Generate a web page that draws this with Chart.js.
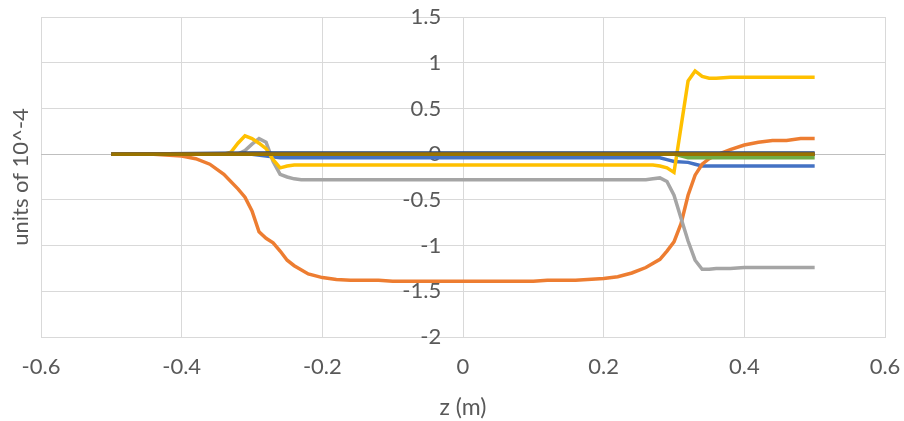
<!DOCTYPE html>
<html>
<head>
<meta charset="utf-8">
<script src="https://cdn.jsdelivr.net/npm/chart.js@4/dist/chart.umd.min.js"></script>
<style>
  html, body { margin: 0; padding: 0; background: #fff; }
  #wrap { width: 904px; height: 421px; }
</style>
</head>
<body>
<div id="wrap"><canvas id="grafico"></canvas></div>
<script>
// axis ticks
const xTicks = [-0.6, -0.4, -0.2, 0, 0.2, 0.4, 0.6];
const yTicks = [-2, -1.5, -1, -0.5, 0, 0.5, 1, 1.5];

// series 1 (blue)
const zBlue = [-0.5, -0.3, -0.28, -0.26, 0.28, 0.29, 0.3, 0.32, 0.33, 0.34, 0.5];
const blue = [0, 0, -0.02, -0.04, -0.04, -0.06, -0.08, -0.09, -0.11, -0.13, -0.13];

// series 2 (orange)
const zOrange = [-0.5, -0.44, -0.4, -0.38, -0.36, -0.34, -0.32, -0.31, -0.3, -0.29, -0.28, -0.27, -0.26, -0.25, -0.24, -0.22, -0.2, -0.18, -0.16, -0.12, -0.1, 0, 0.1, 0.12, 0.16, 0.2, 0.22, 0.24, 0.26, 0.28, 0.29, 0.3, 0.31, 0.32, 0.33, 0.34, 0.35, 0.36, 0.38, 0.4, 0.42, 0.44, 0.46, 0.48, 0.5];
const orange = [0, 0, -0.02, -0.05, -0.11, -0.22, -0.38, -0.47, -0.62, -0.85, -0.92, -0.97, -1.06, -1.16, -1.22, -1.31, -1.35, -1.37, -1.38, -1.38, -1.39, -1.39, -1.39, -1.38, -1.38, -1.36, -1.34, -1.3, -1.24, -1.15, -1.06, -0.96, -0.76, -0.45, -0.23, -0.11, -0.05, -0.01, 0.05, 0.1, 0.13, 0.15, 0.15, 0.17, 0.17];

// series 3 (gray)
const zGray = [-0.5, -0.33, -0.32, -0.31, -0.3, -0.29, -0.28, -0.27, -0.26, -0.25, -0.24, -0.23, -0.2, 0, 0.2, 0.26, 0.27, 0.28, 0.29, 0.3, 0.31, 0.32, 0.33, 0.34, 0.35, 0.36, 0.38, 0.4, 0.5];
const gray = [0, 0, 0, 0.04, 0.11, 0.17, 0.13, -0.08, -0.22, -0.25, -0.27, -0.28, -0.28, -0.28, -0.28, -0.28, -0.27, -0.26, -0.3, -0.45, -0.7, -0.95, -1.16, -1.26, -1.26, -1.25, -1.25, -1.24, -1.24];

// series 4 (yellow)
const zYellow = [-0.5, -0.34, -0.33, -0.32, -0.31, -0.3, -0.29, -0.28, -0.27, -0.26, -0.25, -0.24, -0.2, 0, 0.2, 0.27, 0.28, 0.29, 0.3, 0.31, 0.32, 0.33, 0.34, 0.35, 0.36, 0.38, 0.4, 0.5];
const yellow = [0, 0, 0.02, 0.12, 0.2, 0.17, 0.12, 0.06, -0.06, -0.15, -0.13, -0.12, -0.12, -0.12, -0.12, -0.12, -0.13, -0.15, -0.2, 0.3, 0.8, 0.91, 0.85, 0.83, 0.83, 0.84, 0.84, 0.84];

// remaining components, all close to zero
const zFlat = [-0.5, 0.5];
const lightBlue = [0, 0];
const zGreen = [-0.5, 0.3, 0.32, 0.5];
const green = [0, 0, -0.04, -0.04];
const zNavy = [-0.5, -0.3, 0.5];
const navy = [0, 0.012, 0.012];
const brown = [0, 0];
const darkGray = [0, 0];
const olive = [0, 0];

const series = [
  { z: zBlue, v: blue, color: '#4472C4' },
  { z: zOrange, v: orange, color: '#ED7D31' },
  { z: zGray, v: gray, color: '#A5A5A5' },
  { z: zYellow, v: yellow, color: '#FFC000' },
  { z: zFlat, v: lightBlue, color: '#5B9BD5' },
  { z: zGreen, v: green, color: '#70AD47' },
  { z: zNavy, v: navy, color: '#264478' },
  { z: zFlat, v: brown, color: '#9E480E' },
  { z: zFlat, v: darkGray, color: '#636363' },
  { z: zFlat, v: olive, color: '#997300' }
];

const fonte = "Lato, 'Open Sans', sans-serif";
const corTexto = '#595959';
const corGrade = '#d9d9d9';

// y-axis title drawn at the left edge, the axis labels sit next to z = 0
const tituloY = {
  id: 'tituloY',
  afterDraw(chart) {
    const { ctx, chartArea } = chart;
    ctx.save();
    ctx.translate(21, (chartArea.top + chartArea.bottom) / 2);
    ctx.rotate(-Math.PI / 2);
    ctx.font = '22px ' + fonte;
    ctx.fillStyle = corTexto;
    ctx.textAlign = 'center';
    ctx.textBaseline = 'middle';
    ctx.fillText('units of 10^-4', 0, 0);
    ctx.restore();
  }
};

const datasets = series.map((s, i) => ({
  data: s.z.map((z, k) => ({ x: z, y: s.v[k] })),
  borderColor: s.color,
  backgroundColor: s.color,
  borderWidth: 3.5,
  pointRadius: 0,
  showLine: true,
  tension: 0,
  fill: false,
  order: series.length - i
}));

new Chart(document.getElementById('grafico'), {
  type: 'scatter',
  data: { datasets },
  options: {
    responsive: true,
    maintainAspectRatio: false,
    animation: false,
    layout: { padding: { left: 41, right: 19, top: 17, bottom: 0 } },
    plugins: { legend: { display: false }, tooltip: { enabled: false } },
    scales: {
      x: {
        type: 'linear',
        min: xTicks[0],
        max: xTicks[xTicks.length - 1],
        afterBuildTicks: axis => { axis.ticks = xTicks.map(v => ({ value: v })); },
        afterFit: axis => {
          axis.height = 84;
          axis.paddingLeft = 0;
          axis.paddingRight = 0;
        },
        ticks: {
          padding: 17,
          color: corTexto,
          font: { family: fonte, size: 22 },
          callback: v => String(Number(v.toFixed(1)))
        },
        grid: { color: corGrade, drawTicks: false, tickLength: 0 },
        border: { color: corGrade },
        title: {
          display: true,
          text: 'z (m)',
          color: corTexto,
          font: { family: fonte, size: 23 },
          padding: { top: 13, bottom: 0 }
        }
      },
      y: {
        type: 'linear',
        // labels end a little left of the z = 0 grid line
        position: { x: -0.031 },
        min: yTicks[0],
        max: yTicks[yTicks.length - 1],
        afterBuildTicks: axis => { axis.ticks = yTicks.map(v => ({ value: v })); },
        afterFit: axis => {
          axis.paddingTop = 0;
          axis.paddingBottom = 0;
        },
        ticks: {
          color: corTexto,
          font: { family: fonte, size: 22 },
          callback: v => String(v)
        },
        grid: {
          color: ctx => (ctx.tick && ctx.tick.value === 0 ? '#bfbfbf' : corGrade),
          drawTicks: false,
          tickLength: 0
        },
        border: { display: false }
      }
    }
  },
  plugins: [tituloY]
});
</script>
</body>
</html>
